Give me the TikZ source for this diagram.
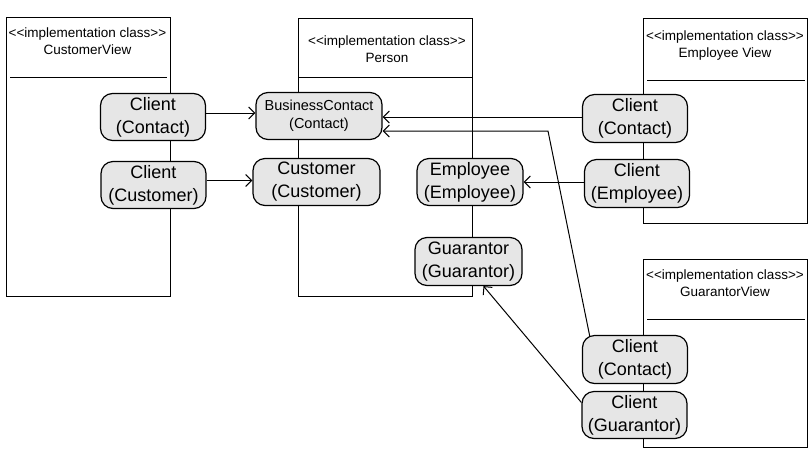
\documentclass[tikz,border=0pt]{standalone}
\usepackage{fontspec}
\setmainfont{Liberation Sans}
\usetikzlibrary{arrows.meta}
\definecolor{rolefill}{HTML}{E6E6E6}

\begin{document}
\begin{tikzpicture}[x=1pt,y=-1pt,
  box/.style={draw,line width=1pt},
  title/.style={align=center,inner sep=0pt,font=\fontsize{13.5}{17}\selectfont},
  role/.style={draw,line width=1.2pt,rounded corners=12pt,fill=rolefill,align=center,
    minimum width=105pt,minimum height=47pt,inner sep=2pt,font=\fontsize{18}{23}\selectfont},
  link/.style={line width=1pt,-{Straight Barb[length=6pt,width=12pt]}}]
  \useasboundingbox (0,0) rectangle (812,451);
  % class boxes
  \draw[box] (6,17) rectangle (170,296);
  \draw[box] (10,77) -- (167,77);
  \draw[box] (298,18) rectangle (472,296);
  \draw[box] (298,77) -- (472,77);
  \draw[box] (643,18) rectangle (807,223);
  \draw[box] (647,80) -- (805,80);
  \draw[box] (643,259) rectangle (807,447);
  \draw[box] (647,319) -- (805,319);
  \node[title]  (cvtitle)   at (87.5,41.5)  {<\kern0pt<implementation class>\kern0pt>\\CustomerView};
  \node[title]  (ptitle)    at (387,49.5)   {<\kern0pt<implementation class>\kern0pt>\\Person};
  \node[title]  (evtitle)   at (725,46)     {<\kern0pt<implementation class>\kern0pt>\\Employee View};
  \node[title]  (gvtitle)   at (725,283.5)  {<\kern0pt<implementation class>\kern0pt>\\GuarantorView};
  % roles
  \node[role]   (cvcontact)   at (153,117)  {Client\\(Contact)};
  \node[role]   (cvcustomer)  at (153.5,185) {Client\\(Customer)};
  \node[role,minimum width=126pt,font=\fontsize{14.5}{18}\selectfont]
                (pcontact)    at (319,116)  {BusinessContact\\(Contact)};
  \node[role,minimum width=127pt] (pcustomer) at (316.5,182) {Customer\\(Customer)};
  \node[role,minimum width=106pt] (pemployee) at (470,182)  {Employee\\(Employee)};
  \node[role,minimum width=107pt,minimum height=48pt]
                (pguarantor)  at (468.5,261.5)  {Guarantor\\(Guarantor)};
  \node[role,minimum height=48pt] (evcontact)  at (635,118.5)  {Client\\(Contact)};
  \node[role,minimum height=48pt] (evemployee) at (637,183.5)  {Client\\(Employee)};
  \node[role,minimum height=48pt] (gvcontact)  at (635,359.5)  {Client\\(Contact)};
  \node[role]   (gvguarantor) at (634.5,415) {Client\\(Guarantor)};
  % links
  \coordinate (bend) at (548,131);
  \draw[link] (cvcontact.east |- 0,113) -- (pcontact.west |- 0,113);
  \draw[link] (cvcustomer.east |- 0,180.5) -- (pcustomer.west |- 0,180.5);
  \draw[link] (evcontact.west |- 0,117) -- (pcontact.east |- 0,117);
  \draw[link] ([shift={(8,2)}]gvcontact.north west) -- (bend) -- (bend -| pcontact.east);
  \draw[link] (evemployee.west |- 0,182) -- (pemployee.east |- 0,182);
  \draw[link] ([yshift=12.5pt]gvguarantor.west) -- ([xshift=15pt]pguarantor.south);
\end{tikzpicture}
\end{document}
